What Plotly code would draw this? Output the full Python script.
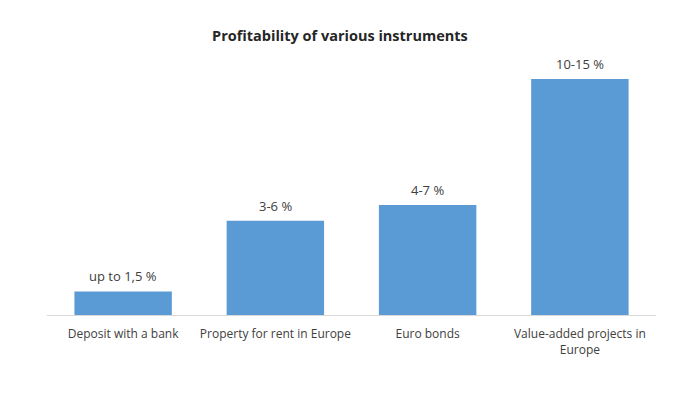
import plotly.graph_objects as go

categories = ["Deposit with a bank", "Property for rent in Europe", "Euro bonds", "Value-added projects in<br>Europe"]
values = [1.5, 6, 7, 15]
labels = ["up to 1,5 %", "3-6 %", "4-7 %", "10-15 %"]

font_family = "Open Sans, Noto Sans, sans-serif"
text_color = "#404040"

fig = go.Figure()
fig.add_trace(go.Bar(
    x=categories, y=values,
    marker=dict(color="#5B9BD5", line=dict(width=0)),
    hoverinfo="skip",
))

for c, v, t in zip(categories, values, labels):
    fig.add_annotation(x=c, y=v, text=t, showarrow=False, yanchor="bottom", yshift=4,
                       font=dict(family=font_family, size=13, color=text_color))

fig.update_layout(
    width=693, height=398,
    paper_bgcolor="white", plot_bgcolor="white",
    margin=dict(l=39, r=45, t=42, b=91),
    bargap=0.36,
    showlegend=False,
    title=dict(text="<b>Profitability of various instruments</b>", x=0.479, xanchor="center",
               y=0.93, yanchor="middle",
               font=dict(family=font_family, size=14.5, color="#262626")),
    font=dict(family=font_family, size=12, color=text_color),
)
fig.update_xaxes(showline=True, linecolor="#D9D9D9", linewidth=1, ticks="", showgrid=False,
                 tickfont=dict(family=font_family, size=12, color=text_color), ticklabelstandoff=8)
fig.update_yaxes(visible=False, range=[0, 16.85], showgrid=False, zeroline=False)

fig.write_html("out.html")
